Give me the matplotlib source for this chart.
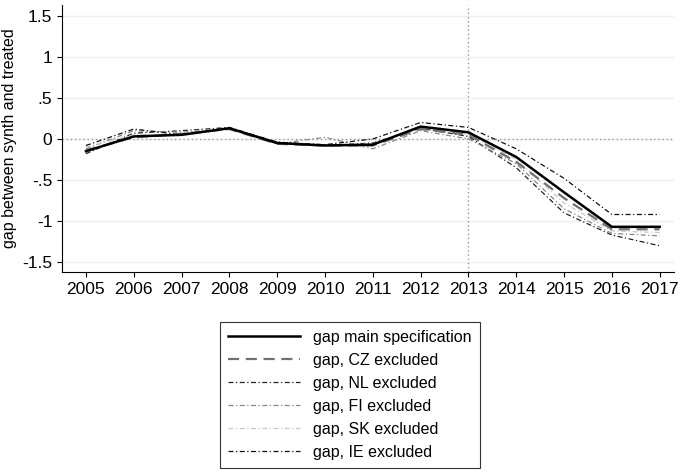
import matplotlib
matplotlib.use("Agg")
import matplotlib.pyplot as plt
from matplotlib.ticker import FixedLocator

years = list(range(2005, 2018))
main = [-0.15, 0.03, 0.05, 0.13, -0.05, -0.08, -0.07, 0.15, 0.08, -0.22, -0.65, -1.07, -1.07]
cz   = [-0.14, 0.02, 0.06, 0.12, -0.06, -0.08, -0.08, 0.12, 0.05, -0.28, -0.72, -1.10, -1.10]
nl   = [-0.18, 0.07, 0.10, 0.14, -0.04, -0.08, -0.05, 0.13, 0.03, -0.35, -0.90, -1.17, -1.30]
fi   = [-0.12, 0.10, 0.08, 0.12, -0.06, 0.02, -0.12, 0.10, 0.00, -0.30, -0.85, -1.15, -1.18]
sk   = [-0.10, 0.05, 0.04, 0.13, -0.05, -0.08, -0.06, 0.14, 0.06, -0.25, -0.78, -1.12, -1.14]
ie   = [-0.08, 0.12, 0.05, 0.13, -0.04, -0.07, 0.00, 0.20, 0.14, -0.12, -0.48, -0.92, -0.92]
yticks = [1.5, 1, 0.5, 0, -0.5, -1, -1.5]
ylabels = ["1.5", "1", ".5", "0", "-.5", "-1", "-1.5"]

plt.rcParams["font.family"] = ["Liberation Sans", "DejaVu Sans"]
fig = plt.figure(figsize=(6.97, 4.74), dpi=100)
ax = fig.add_axes([62/697, 202/474, 612/697, 267/474])
for yv in yticks:
    ax.axhline(yv, color="#eaf2f3", lw=1, zorder=0)
ax.axhline(0, color="#999999", lw=1, ls=(0, (1, 2)), zorder=1)
ax.axvline(2013, color="#999999", lw=1, ls=(0, (1, 2)), zorder=1)
ax.plot(years, main, color="black", lw=1.8, label="gap main specification", zorder=5)
ax.plot(years, cz, color="#707070", lw=1.6, ls=(0, (5, 3)), label="gap, CZ excluded", zorder=4)
ax.plot(years, nl, color="#222222", lw=0.9, ls=(0, (4, 2, 1, 2)), label="gap, NL excluded", zorder=3)
ax.plot(years, fi, color="#888888", lw=0.9, ls=(0, (4, 2, 1, 2)), label="gap, FI excluded", zorder=3)
ax.plot(years, sk, color="#c8c8c8", lw=0.9, ls=(0, (4, 2, 1, 2)), label="gap, SK excluded", zorder=3)
ax.plot(years, ie, color="#111111", lw=0.9, ls=(0, (4, 2, 1, 2)), label="gap, IE excluded", zorder=3)
ax.set_xlim(2004.5, 2017.3)
ax.set_ylim(-1.62, 1.63)
ax.set_xticks(years)
ax.yaxis.set_major_locator(FixedLocator(yticks))
ax.set_yticklabels(ylabels, rotation=0)
ax.tick_params(labelsize=12.5)
ax.spines["top"].set_visible(False)
ax.spines["right"].set_visible(False)
ax.set_ylabel("gap between synth and treated", fontsize=11.5)
leg = fig.legend(loc="upper center", bbox_to_anchor=(350/697, 1 - 314/474), ncol=1, fontsize=11.5,
                 frameon=True, fancybox=False, edgecolor="black", handlelength=4.5,
                 borderpad=0.5, labelspacing=0.5)
leg.get_frame().set_linewidth(0.8)
fig.savefig("out.png", dpi=100)
